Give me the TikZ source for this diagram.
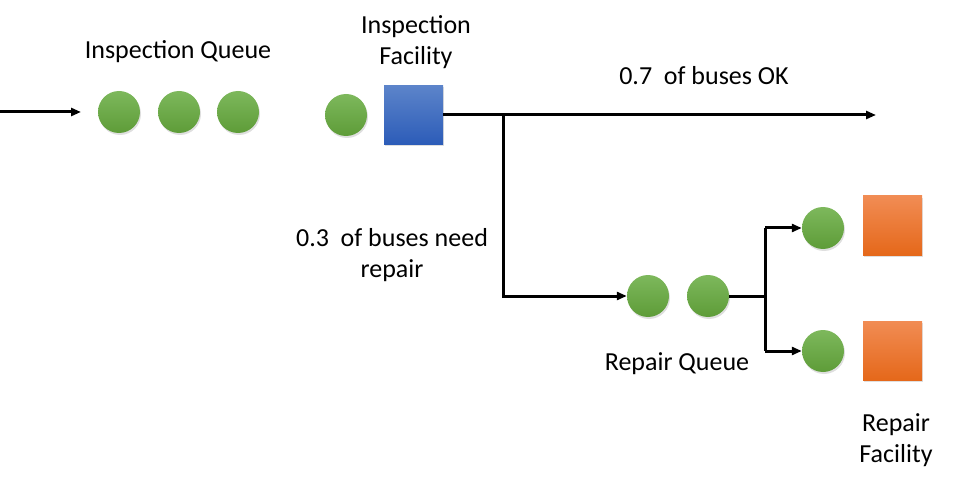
\documentclass[tikz,border=0pt]{standalone}
\usepackage{fontspec}
\setmainfont{Carlito}
\usetikzlibrary{arrows.meta,shadows}
\definecolor{gtop}{RGB}{125,184,92}
\definecolor{gbot}{RGB}{94,156,56}
\definecolor{btop}{RGB}{92,132,202}
\definecolor{bbot}{RGB}{44,92,184}
\definecolor{otop}{RGB}{241,140,84}
\definecolor{obot}{RGB}{229,104,26}
\begin{document}
\begin{tikzpicture}[x=1pt,y=-1pt,
  cust/.style={circle,minimum size=42pt,inner sep=0pt,top color=gtop,bottom color=gbot,drop shadow={opacity=0.25,shadow xshift=1pt,shadow yshift=-2pt}},
  insbox/.style={rectangle,minimum size=59pt,inner sep=0pt,top color=btop,bottom color=bbot,drop shadow={opacity=0.25,shadow xshift=1pt,shadow yshift=-2pt}},
  repbox/.style={rectangle,minimum size=59pt,inner sep=0pt,top color=otop,bottom color=obot,drop shadow={opacity=0.25,shadow xshift=1pt,shadow yshift=-2pt}},
  lbl/.style={font=\fontsize{26}{31}\selectfont,align=center,inner sep=0pt,text=black},
  conn/.style={line width=3pt,-{Triangle[length=10pt,width=8pt]}},
  plainline/.style={line width=3pt}]
\useasboundingbox (0,0) rectangle (953,489);
% inspection queue
\coordinate (src) at (0,112);
\coordinate (srcend) at (81,112);
\node[cust] (q1) at (119,112) {};
\node[cust] (q2) at (179,112) {};
\node[cust] (q3) at (238,112) {};
\node[cust] (q4) at (346,115) {};
\node[insbox] (insp) at (413.5,115) {};
\coordinate (split) at (503,115);
\coordinate (okend) at (876,115);
\coordinate (down) at (503,296);
% repair queue
\node[cust] (r1) at (648,296) {};
\node[cust] (r2) at (708,296) {};
\coordinate (fork) at (765,296);
\coordinate (forkt) at (765,228);
\coordinate (forkb) at (765,351);
\node[cust] (s1) at (823,228) {};
\node[cust] (s2) at (823,351) {};
\node[repbox] (f1) at (892.5,225.5) {};
\node[repbox] (f2) at (892.5,350.5) {};
% connectors
\draw[conn] (src) -- (srcend);
\draw[plainline] (insp.east) -- (split);
\draw[conn] (split) -- (okend);
\draw[conn] (split) -- (down) -- (r1.west);
\draw[plainline] (r2.east) -- (fork);
\draw[plainline] (forkt) -- (forkb);
\draw[conn] (forkt) -- (s1.west);
\draw[conn] (forkb) -- (s2.west);
% labels
\node[lbl] (tiq) at (178,52) {Inspection Queue};
\node[lbl] (tif) at (416,42) {Inspection\\Facility};
\node[lbl] (tok) at (704,76) {0.7\ \ of buses OK};
\node[lbl] (tnr) at (392,255) {0.3\ \ of buses need\\repair};
\node[lbl] (trq) at (677,364) {Repair Queue};
\node[lbl] (trf) at (896,440) {Repair\\Facility};
\end{tikzpicture}
\end{document}
